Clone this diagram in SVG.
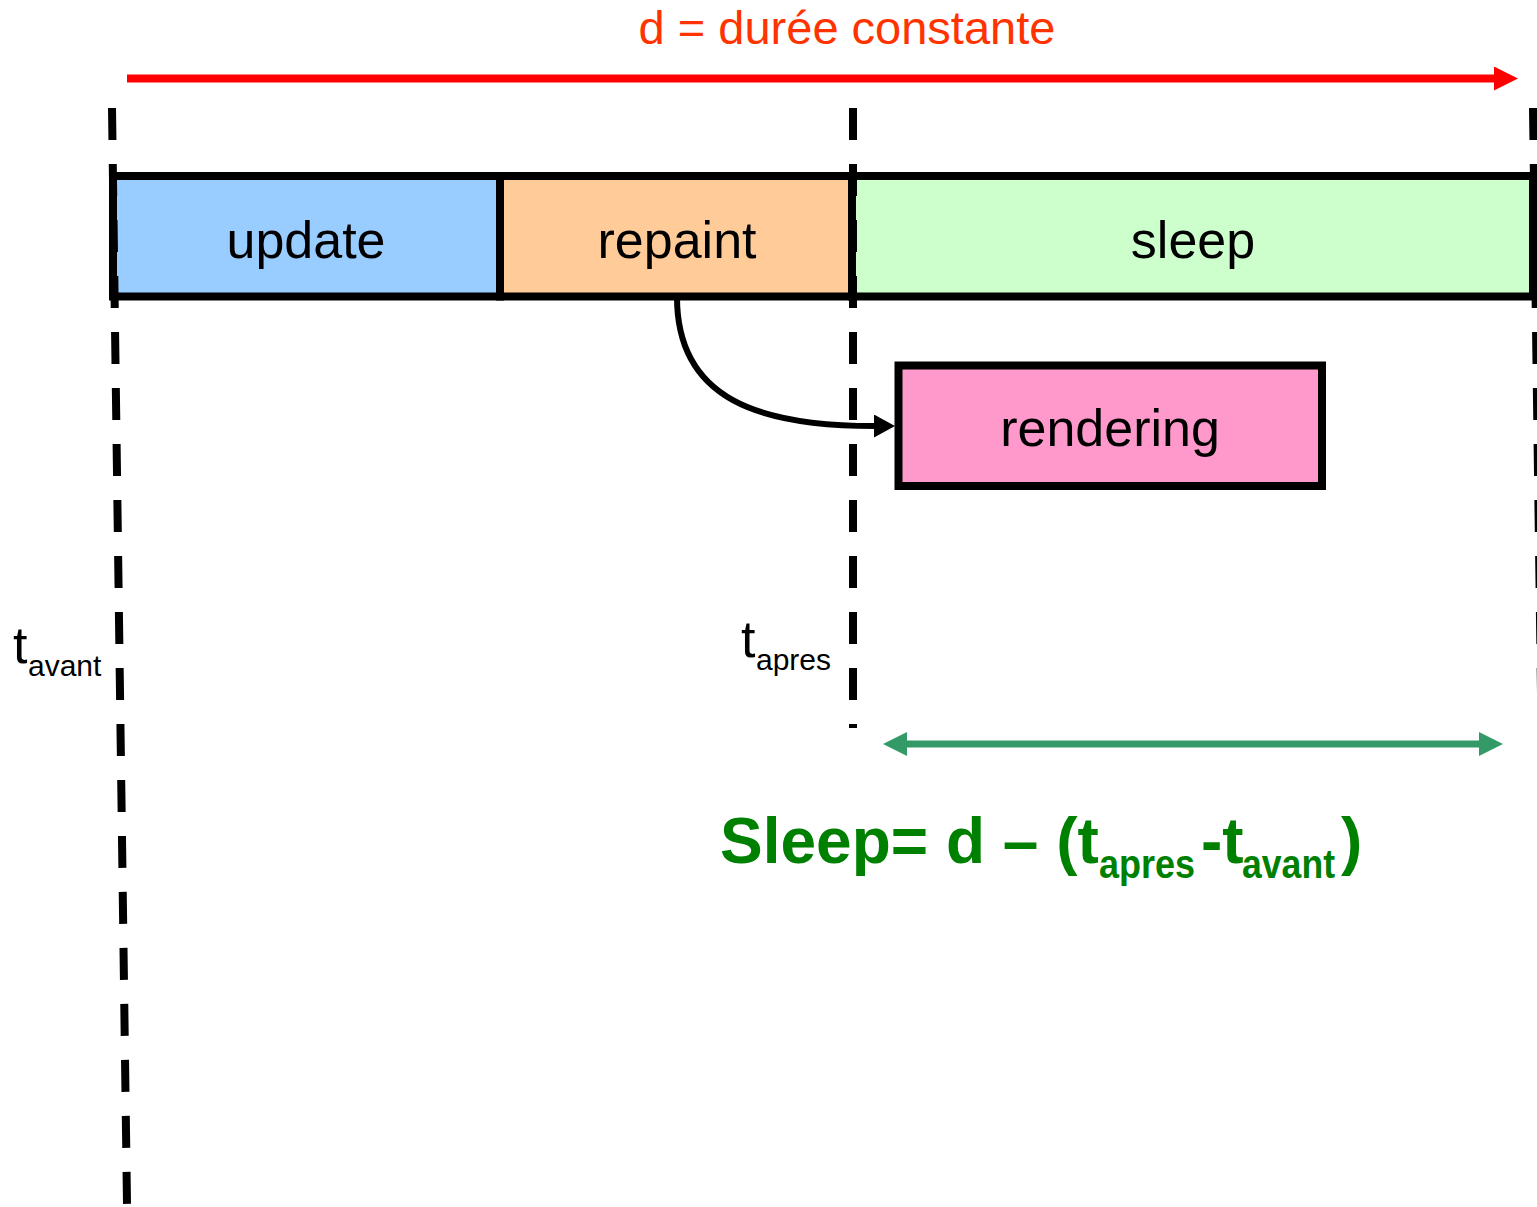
<svg xmlns="http://www.w3.org/2000/svg" width="1537" height="1207" viewBox="0 0 1537 1207">
  <style>
    .lbl { font-family: "Liberation Sans", Arial, sans-serif; fill: #000; }
    .box { stroke: #000; stroke-width: 8; }
    .dash { stroke: #000; stroke-width: 8; stroke-dasharray: 32 24; fill: none; }
    .f { font-family: "Liberation Sans", Arial, sans-serif; font-weight: bold; fill: #008000; }
  </style>
  <defs>
    <marker id="redHead" markerUnits="userSpaceOnUse" markerWidth="26" markerHeight="26" refX="1" refY="12" orient="auto">
      <path d="M0,0 L24,12 L0,24 z" fill="#ff0000"/>
    </marker>
    <marker id="greenHead" markerUnits="userSpaceOnUse" markerWidth="26" markerHeight="26" refX="1" refY="12" orient="auto-start-reverse">
      <path d="M0,0 L24,12 L0,24 z" fill="#339966"/>
    </marker>
    <marker id="blackHead" markerUnits="userSpaceOnUse" markerWidth="24" markerHeight="24" refX="1" refY="11.5" orient="auto">
      <path d="M0,0 L21,11.5 L0,23 z" fill="#000"/>
    </marker>
  </defs>

  <text class="lbl" x="847" y="44" font-size="47" text-anchor="middle" style="fill:#ff3300">d = durée constante</text>

  <g id="update">
    <rect class="box" x="113" y="176" width="387" height="120.5" fill="#99ccff"/>
    <text class="lbl" x="306" y="258" font-size="52" text-anchor="middle">update</text>
  </g>
  <g id="repaint">
    <rect class="box" x="500" y="176" width="352" height="120.5" fill="#ffcc99"/>
    <text class="lbl" x="677" y="258" font-size="52" text-anchor="middle">repaint</text>
  </g>
  <g id="sleep">
    <rect class="box" x="852" y="176" width="681" height="120.5" fill="#ccffcc"/>
    <text class="lbl" x="1193" y="258" font-size="52" text-anchor="middle">sleep</text>
  </g>
  <g id="rendering">
    <rect class="box" x="898.5" y="365.5" width="423.5" height="120.5" fill="#ff99cc"/>
    <text class="lbl" x="1110" y="446" font-size="52" text-anchor="middle">rendering</text>
  </g>

  <g id="timelines">
    <line class="dash" x1="112" y1="108" x2="127" y2="1204"/>
    <line class="dash" x1="853" y1="108" x2="853" y2="728"/>
    <line class="dash" x1="1533" y1="108" x2="1548" y2="1204"/>
  </g>

  <g id="connectors">
    <line x1="127" y1="78.5" x2="1495" y2="78.5" stroke="#ff0000" stroke-width="8" marker-end="url(#redHead)"/>
    <path d="M677,297 C677,400 760,426 875,426" fill="none" stroke="#000" stroke-width="6" marker-end="url(#blackHead)"/>
    <line x1="906" y1="744" x2="1480" y2="744" stroke="#339966" stroke-width="7" marker-start="url(#greenHead)" marker-end="url(#greenHead)"/>
  </g>

  <g id="labels">
    <text class="lbl" x="13" y="663" font-size="52">t</text>
    <text class="lbl" x="28" y="676" font-size="30">avant</text>
    <text class="lbl" x="741" y="657" font-size="52">t</text>
    <text class="lbl" x="756" y="670" font-size="30">apres</text>
  </g>

  <g id="formula">
    <text class="f" x="720" y="863" font-size="64">Sleep= d – (t</text>
    <text class="f" x="1099" y="878" font-size="40" textLength="96" lengthAdjust="spacingAndGlyphs">apres</text>
    <text class="f" x="1201" y="863" font-size="64">-t</text>
    <text class="f" x="1242" y="878" font-size="40" textLength="93" lengthAdjust="spacingAndGlyphs">avant</text>
    <text class="f" x="1341" y="863" font-size="64">)</text>
  </g>
</svg>
